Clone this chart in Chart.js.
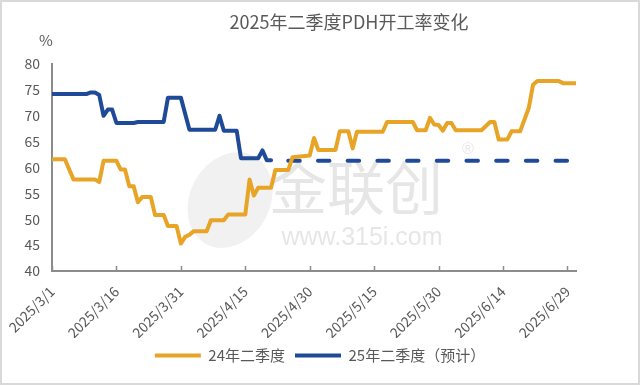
<!DOCTYPE html>
<html>
<head>
<meta charset="utf-8">
<script src="https://cdn.jsdelivr.net/npm/chart.js@4"></script>
<style>
  html, body { margin: 0; padding: 0; background: #fff; }
  #wrap { width: 640px; height: 385px; box-sizing: border-box; border: 2px solid #d9d9d9; }
  canvas { display: block; }
</style>
</head>
<body>
<div id="wrap"><canvas id="chart" width="636" height="381"></canvas></div>
<script>
// day offsets from 2025/3/1 and rates (%)
const days24 = [0, 3, 5, 10, 11, 12, 15, 16, 17, 18, 19, 20, 21, 23, 24, 26, 27, 29, 30, 31, 32, 33, 36, 37, 40, 41, 45, 46, 47, 48, 51, 52, 55, 56, 60, 61, 62, 66, 67, 69, 70, 71, 77, 78, 84, 85, 87, 88, 89, 90, 91, 92, 93, 94, 100, 102, 103, 104, 106, 107, 109, 111, 112, 113, 118, 119, 122];
const rate24 = [61.6, 61.6, 57.7, 57.7, 57.2, 61.3, 61.3, 59.6, 59.6, 56.4, 56.4, 53.3, 54.3, 54.3, 50.8, 50.8, 48.7, 48.7, 45.3, 46.6, 47.0, 47.7, 47.7, 49.8, 49.8, 50.9, 50.9, 57.7, 54.6, 56.1, 56.1, 59.5, 59.5, 62.0, 62.3, 65.7, 63.4, 63.4, 67.0, 67.0, 63.7, 66.9, 66.9, 68.8, 68.8, 67.2, 67.2, 69.6, 68.3, 68.2, 67.1, 68.6, 68.6, 67.2, 67.2, 68.8, 68.8, 65.4, 65.4, 67.0, 67.0, 71.5, 76.0, 76.7, 76.7, 76.3, 76.3];

const days25 = [0, 8, 9, 10, 11, 12, 13, 14, 15, 19, 20, 26, 27, 30, 32, 38, 39, 40, 43, 44, 48, 49, 50, 51];
const rate25 = [74.2, 74.2, 74.5, 74.5, 74.0, 70.0, 71.2, 71.2, 68.6, 68.6, 68.8, 68.8, 73.5, 73.5, 67.3, 67.3, 70.0, 67.1, 67.1, 61.8, 61.8, 63.3, 61.4, 61.4];

const daysForecast = [51, 120];
const rateForecast = [61.3, 61.3];

const seriesNames = ['24年二季度', '25年二季度（预计）'];
const chartTitle = '2025年二季度PDH开工率变化';
const tickStep = 15;

const textColor = '#595959';
const fontFamily = '"Noto Sans CJK SC", "Noto Sans", sans-serif';

function toPoints(xs, ys) {
    return xs.map((x, i) => ({ x: x, y: ys[i] }));
}

function dayLabel(d) {
    const dt = new Date(2025, 2, 1 + d);
    return dt.getFullYear() + '/' + (dt.getMonth() + 1) + '/' + dt.getDate();
}

// title, faint watermark, "%" unit and inward x tick marks
const extras = {
    id: 'extras',
    beforeDatasetsDraw(chart) {
        const c = chart.ctx;
        const a = chart.chartArea;
        c.save();
        // logo blob
        c.fillStyle = 'rgba(220,220,220,0.4)';
        c.beginPath();
        c.ellipse(a.left + 178, a.top + 136, 40, 50, 0.5, 0, Math.PI * 2);
        c.fill();
        c.fillStyle = 'rgba(200,200,200,0.45)';
        c.textAlign = 'center';
        c.textBaseline = 'middle';
        c.font = '58px ' + fontFamily;
        c.fillText('金联创', a.left + 304, a.top + 124);
        c.font = '25px "Liberation Sans", sans-serif';
        c.fillText('www.315i.com', a.left + 310, a.top + 174);
        c.font = '16px "Liberation Sans", sans-serif';
        c.fillText('®', a.left + 416, a.top + 86);
        c.restore();
    },
    afterDraw(chart) {
        const c = chart.ctx;
        const xs = chart.scales.x;
        const a = chart.chartArea;
        c.save();
        c.strokeStyle = '#8c8c8c';
        c.lineWidth = 1.5;
        xs.ticks.forEach(t => {
            const px = Math.round(xs.getPixelForValue(t.value)) + 0.5;
            c.beginPath();
            c.moveTo(px, a.bottom);
            c.lineTo(px, a.bottom - 5);
            c.stroke();
        });
        c.fillStyle = textColor;
        c.textAlign = 'center';
        c.textBaseline = 'middle';
        c.font = '18px ' + fontFamily;
        c.fillText(chartTitle, 347, 20);
        c.font = '15px ' + fontFamily;
        c.fillText('%', a.left - 6, a.top - 24);
        c.restore();
    }
};

const ctx = document.getElementById('chart').getContext('2d');

new Chart(ctx, {
    type: 'line',
    data: {
        datasets: [
            {
                label: seriesNames[0],
                data: toPoints(days24, rate24),
                borderColor: '#E8A427',
                backgroundColor: '#E8A427',
                borderWidth: 4,
                pointRadius: 0,
                borderJoinStyle: 'round',
                borderCapStyle: 'round'
            },
            {
                label: seriesNames[1],
                data: toPoints(days25, rate25),
                borderColor: '#1F4A98',
                backgroundColor: '#1F4A98',
                borderWidth: 4,
                pointRadius: 0,
                borderJoinStyle: 'round',
                borderCapStyle: 'round'
            },
            {
                label: 'forecast',
                data: toPoints(daysForecast, rateForecast),
                borderColor: '#1F4A98',
                backgroundColor: '#1F4A98',
                borderWidth: 4,
                pointRadius: 0,
                borderCapStyle: 'round',
                borderDash: [11.5, 18.2],
                borderDashOffset: 12.5
            }
        ]
    },
    options: {
        responsive: false,
        animation: false,
        layout: { padding: { left: 0, right: 0, top: 62, bottom: 10 } },
        plugins: {
            legend: {
                position: 'bottom',
                labels: {
                    color: textColor,
                    font: { family: fontFamily, size: 15 },
                    usePointStyle: true,
                    pointStyle: 'line',
                    pointStyleWidth: 46,
                    padding: 10,
                    generateLabels(chart) {
                        const items = Chart.defaults.plugins.legend.labels.generateLabels(chart);
                        return items
                            .filter(it => it.datasetIndex !== 1)
                            .map(it => {
                                if (it.datasetIndex === 2) {
                                    it.text = seriesNames[1];
                                    it.lineDashOffset = -2;
                                }
                                it.pointStyle = 'line';
                                return it;
                            });
                    }
                }
            },
            tooltip: { enabled: false }
        },
        scales: {
            x: {
                type: 'linear',
                min: 0,
                max: 122,
                grid: { display: false },
                border: { display: true, color: '#8c8c8c', width: 2 },
                afterFit(scale) { scale.height = 67; },
                ticks: {
                    stepSize: tickStep,
                    includeBounds: false,
                    autoSkip: false,
                    minRotation: 45,
                    maxRotation: 45,
                    padding: 4,
                    color: textColor,
                    font: { family: fontFamily, size: 14 },
                    callback: function (value) {
                        return dayLabel(value);
                    }
                }
            },
            y: {
                min: 40,
                max: 80,
                grid: { display: false, drawTicks: false },
                border: { display: true, color: '#8c8c8c', width: 2 },
                afterFit(scale) { scale.width = 50; },
                ticks: {
                    stepSize: 5,
                    padding: 12,
                    color: textColor,
                    font: { family: fontFamily, size: 14 }
                }
            },
            yRight: {
                position: 'right',
                display: true,
                grid: { display: false, drawTicks: false },
                border: { display: false },
                ticks: { display: false },
                afterFit(scale) { scale.width = 62; }
            }
        }
    },
    plugins: [extras]
});
</script>
</body>
</html>
